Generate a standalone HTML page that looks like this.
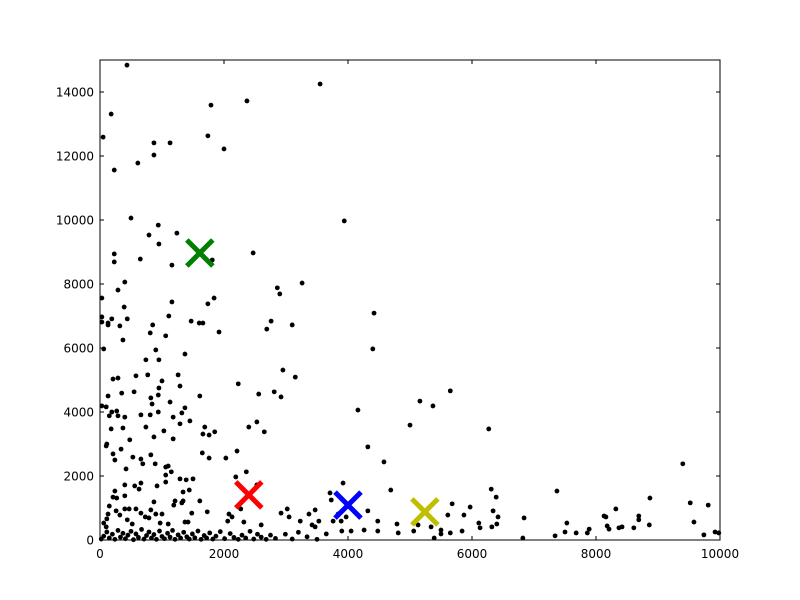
<!DOCTYPE html>
<html><head><meta charset="utf-8"><style>
html,body{margin:0;padding:0;background:#fff;}
svg{display:block;}
text{font-family:"DejaVu Sans","Liberation Sans",sans-serif;font-size:12px;fill:#000;}
</style></head><body>
<svg id="chart" width="800" height="600" xmlns="http://www.w3.org/2000/svg">
<rect x="0" y="0" width="800" height="600" fill="#fff"/>
<g id="points"></g>
<g id="centroids"></g>
<g id="axes"></g>
</svg>
<script>
const xTicks=[0,2000,4000,6000,8000,10000];
const yTicks=[0,2000,4000,6000,8000,10000,12000,14000];
const xs=[435,3550,1790,2370,180,50,870,1130,1740,2000,870,610,230,500,940,1240,790,950,230,650,230,1160,1810,2470,3940,400,290,2860,2900,3260,30,1840,1160,1740,
390,30,30,130,190,130,440,320,850,1110,1470,1600,1660,1920,2760,2690,3100,4420,4400,370,810,1060,60,900,1370,740,950,2950,3150,210,290,580,770,1260,1000,1290,2230,130,350,550,950,820,940,1610,2560,2810,2920,30,100,1130,840,1370,150,190,270,290,400,660,810,940,1180,1320,1450,1290,180,370,740,1030,1690,1660,1760,1850,2400,2530,2650,4160,5000,480,870,1180,110,100,340,210,240,530,660,690,820,890,1650,1760,2030,2210,4320,4580,420,1060,1100,1150,1060,1060,1290,1390,1500,2190,2360,2530,3920,400,560,630,660,920,240,210,270,400,1340,1440,150,870,1210,1190,1320,1340,1610,3710,3730,4690,400,470,580,260,320,130,660,730,790,820,900,1000,1480,1730,2080,2130,2270,2920,3020,3050,3370,3470,3840,3760,3890,3970,4320,4480,4790,4810,110,60,100,440,520,970,1100,1370,1420,2060,2320,2600,3230,3470,3530,3420,4260,3900,4050,4480,
5160,5370,5650,6270,9400,6310,6390,7370,5680,5970,5610,5870,6340,6420,6840,6110,6130,6320,6400,7530,8130,8160,8320,8870,8690,8690,8860,9520,9810,9580,5060,5130,5340,5500,5500,5650,5840,5390,6820,7340,7500,7680,7860,7890,8180,8210,8370,8420,8610,9740,9920,9980,
20,60,110,150,200,240,290,330,370,410,450,500,540,580,620,670,710,750,790,830,870,910,960,1000,1040,1090,1130,1170,1210,1260,1300,1350,1400,1440,1490,1530,1580,1630,1680,1720,1770,1820,1870,1940,2010,2100,2160,2230,2290,2350,2420,2480,2540,2600,2680,2750,2830,2990,3100,3200,3340,3500,3650];
const ys=[14840,14250,13590,13720,13310,12590,12410,12410,12630,12220,12030,11780,11560,10060,9840,9590,9530,9250,8940,8780,8690,8590,8750,8970,9970,8060,7810,7880,7690,8030,7560,7560,7440,7380,
7280,6970,6810,6780,6910,6720,6910,6690,6720,7000,6840,6780,6780,6500,6840,6590,6720,7090,5970,6250,6470,6380,5970,5940,5810,5630,5630,5310,5090,5030,5060,5130,5160,5160,4970,4810,4880,4500,4590,4630,4750,4440,4530,4500,4560,4630,4470,4190,4160,4310,4250,4130,3880,4000,4030,3880,3840,3910,3910,4000,3840,3970,3720,3630,3470,3500,3530,3410,3530,3310,3280,3380,3530,3690,3380,4060,3590,3130,3220,3160,3000,2940,2840,2690,2500,2590,2530,2380,2660,2380,2720,2560,2560,2780,2910,2440,2220,2280,2310,2130,2030,1810,1910,1880,1910,1970,2130,1720,1780,1720,1690,1590,1780,1690,1530,1340,1310,1380,1500,1560,1060,1190,1220,1090,1160,1220,1220,1470,1250,1560,970,970,970,910,780,810,840,720,690,940,810,810,840,880,810,720,970,840,970,720,810,940,810,590,590,720,910,590,500,220,660,530,410,630,500,530,500,560,560,590,560,470,590,410,590,470,310,280,280,280,
4340,4190,4660,3470,2380,1590,1340,1530,1130,1030,780,780,910,720,690,530,380,410,500,530,750,720,970,1310,750,630,470,1160,1090,560,280,470,410,310,190,220,280,60,60,130,250,220,220,340,440,340,380,410,380,160,250,220,
30,120,250,60,180,20,300,90,210,40,150,270,10,190,80,330,30,140,250,60,170,20,280,110,40,210,90,300,20,160,60,240,100,30,190,70,280,20,140,60,220,30,120,260,40,200,80,20,150,60,270,30,180,90,20,150,50,180,30,240,100,20,190];
const cx=[1610,2400,4000,5240];
const cy=[8970,1410,1090,880];
const cColors=['#008000','#ff0000','#0000ff','#bfbf00'];
const cNames=['centroid-green','centroid-red','centroid-blue','centroid-yellow'];

const L=100,R=720,T=60,B=540;
const X=v=>L+(v-0)/(10000-0)*(R-L);
const Y=v=>B-(v-0)/(15000-0)*(B-T);
const NS='http://www.w3.org/2000/svg';
function mk(t,a,p){const e=document.createElementNS(NS,t);for(const k in a)e.setAttribute(k,a[k]);p.appendChild(e);return e;}

const gp=document.getElementById('points');
for(let i=0;i<xs.length;i++){
  const c=mk('circle',{cx:X(xs[i]),cy:Y(ys[i]),r:2.4,fill:'#000'},gp);
  
  
}
const gc=document.getElementById('centroids');
for(let i=0;i<cx.length;i++){
  const g=mk('g',{},gc);
  
  
  const px=X(cx[i]),py=Y(cy[i]),s=13;
  mk('line',{x1:px-s,y1:py-s,x2:px+s,y2:py+s,stroke:cColors[i],'stroke-width':5},g);
  mk('line',{x1:px-s,y1:py+s,x2:px+s,y2:py-s,stroke:cColors[i],'stroke-width':5},g);
}
const ga=document.getElementById('axes');
const fr=mk('rect',{x:L,y:T,width:R-L,height:B-T,fill:'none',stroke:'#000','stroke-width':1},ga);


xTicks.forEach(v=>{
  const px=X(v);
  mk('line',{x1:px,y1:B,x2:px,y2:B-4,stroke:'#000'},ga);
  mk('line',{x1:px,y1:T,x2:px,y2:T+4,stroke:'#000'},ga);
  const t=mk('text',{x:px,y:B+18,'text-anchor':'middle'},ga);
  t.textContent=v;
  
  
});
yTicks.forEach(v=>{
  const py=Y(v);
  mk('line',{x1:L,y1:py,x2:L+4,y2:py,stroke:'#000'},ga);
  mk('line',{x1:R,y1:py,x2:R-4,y2:py,stroke:'#000'},ga);
  const t=mk('text',{x:L-6,y:py+4.5,'text-anchor':'end'},ga);
  t.textContent=v;
  
  
});
</script>
</body></html>
